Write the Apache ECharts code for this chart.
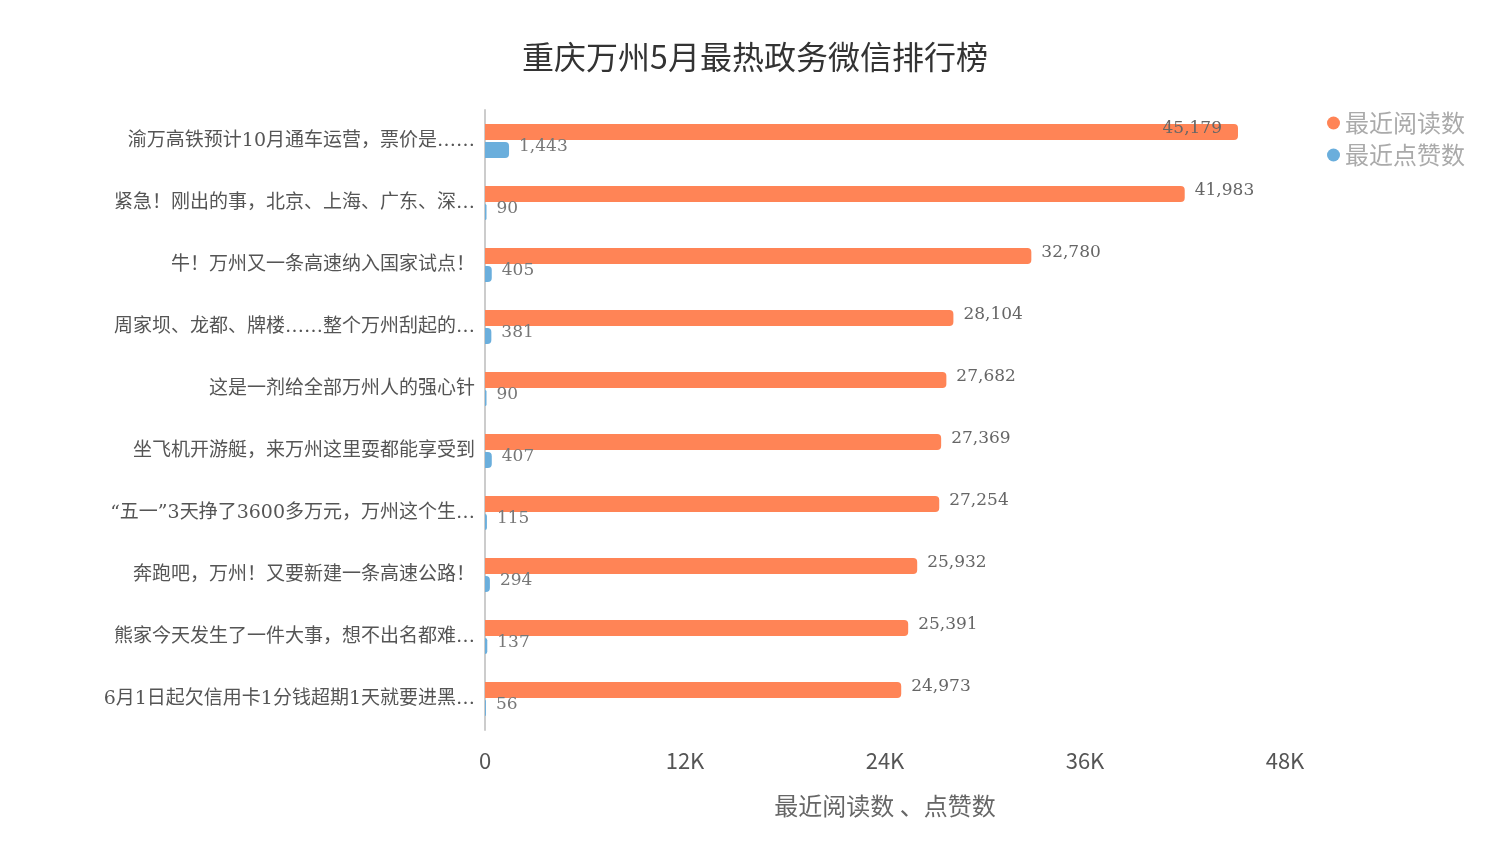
<!DOCTYPE html>
<html>
<head>
<meta charset="utf-8">
<script src="https://cdn.jsdelivr.net/npm/echarts@6/dist/echarts.min.js"></script>
<style>
  html, body { margin: 0; padding: 0; background: #fff; }
  #chart { width: 1510px; height: 850px; }
</style>
</head>
<body>
<div id="chart"></div>
<script>
const categories = [
  '渝万高铁预计10月通车运营，票价是……',
  '紧急！刚出的事，北京、上海、广东、深…',
  '牛！万州又一条高速纳入国家试点！',
  '周家坝、龙都、牌楼……整个万州刮起的…',
  '这是一剂给全部万州人的强心针',
  '坐飞机开游艇，来万州这里耍都能享受到',
  '“五一”3天挣了3600多万元，万州这个生…',
  '奔跑吧，万州！又要新建一条高速公路！',
  '熊家今天发生了一件大事，想不出名都难…',
  '6月1日起欠信用卡1分钱超期1天就要进黑…'
]
const readCounts = [45179, 41983, 32780, 28104, 27682, 27369, 27254, 25932, 25391, 24973]
const likeCounts = [1443, 90, 405, 381, 90, 407, 115, 294, 137, 56]
const xTicks = [0, 12000, 24000, 36000, 48000]

const serif = '"DejaVu Serif", "Liberation Serif", "Noto Sans CJK SC", serif'
const sans = '"Noto Sans CJK SC", "Noto Sans", sans-serif'
const fmt = v => v.toLocaleString('en-US')

const chart = echarts.init(document.getElementById('chart'))

chart.setOption({
  backgroundColor: '#fff',
  animation: false,
  title: {
    text: '重庆万州5月最热政务微信排行榜',
    left: 'center',
    top: 36,
    textStyle: { fontFamily: sans, fontSize: 32, fontWeight: 'normal', color: '#333' }
  },
  legend: {
    orient: 'vertical',
    right: 40,
    top: 106,
    icon: 'circle',
    itemWidth: 13,
    itemHeight: 13,
    itemGap: 8,
    textStyle: { fontFamily: sans, fontSize: 24, color: '#aaa' },
    data: ['最近阅读数', '最近点赞数']
  },
  grid: { left: 485, right: 225, top: 110, bottom: 120, containLabel: false },
  xAxis: {
    type: 'value',
    min: 0,
    max: 48000,
    interval: 12000,
    name: '最近阅读数 、点赞数',
    nameLocation: 'middle',
    nameGap: 64,
    nameTextStyle: { fontFamily: sans, fontSize: 24, color: '#666' },
    axisLine: { show: false },
    axisTick: { show: false },
    splitLine: { show: false },
    axisLabel: {
      margin: 20,
      fontFamily: sans,
      fontSize: 22,
      color: '#555',
      formatter: v => (xTicks.includes(v) ? (v === 0 ? '0' : v / 1000 + 'K') : '')
    }
  },
  yAxis: {
    type: 'category',
    inverse: true,
    data: categories,
    axisLine: { lineStyle: { color: '#ccc', width: 2 } },
    axisTick: { show: false },
    axisLabel: { margin: 10, fontFamily: serif, fontSize: 19, color: '#555' }
  },
  series: [
    {
      name: '最近阅读数',
      type: 'bar',
      barWidth: 16,
      barGap: '12%',
      itemStyle: { color: '#FF8456', borderRadius: [0, 4, 4, 0] },
      label: {
        show: true,
        position: 'right',
        distance: 10,
        offset: [0, -3],
        fontFamily: serif,
        fontSize: 17,
        color: '#666',
        formatter: p => fmt(p.value)
      },
      data: readCounts.map((v, i) => i === 0
        ? { value: v, label: { position: 'insideRight', distance: 16 } }
        : v)
    },
    {
      name: '最近点赞数',
      type: 'bar',
      barWidth: 16,
      itemStyle: { color: '#6AAEDC', borderRadius: [0, 4, 4, 0] },
      label: {
        show: true,
        position: 'right',
        distance: 10,
        offset: [0, -3],
        fontFamily: serif,
        fontSize: 17,
        color: '#777',
        formatter: p => fmt(p.value)
      },
      data: likeCounts
    }
  ]
})

window.addEventListener('resize', () => chart.resize())
</script>
</body>
</html>
